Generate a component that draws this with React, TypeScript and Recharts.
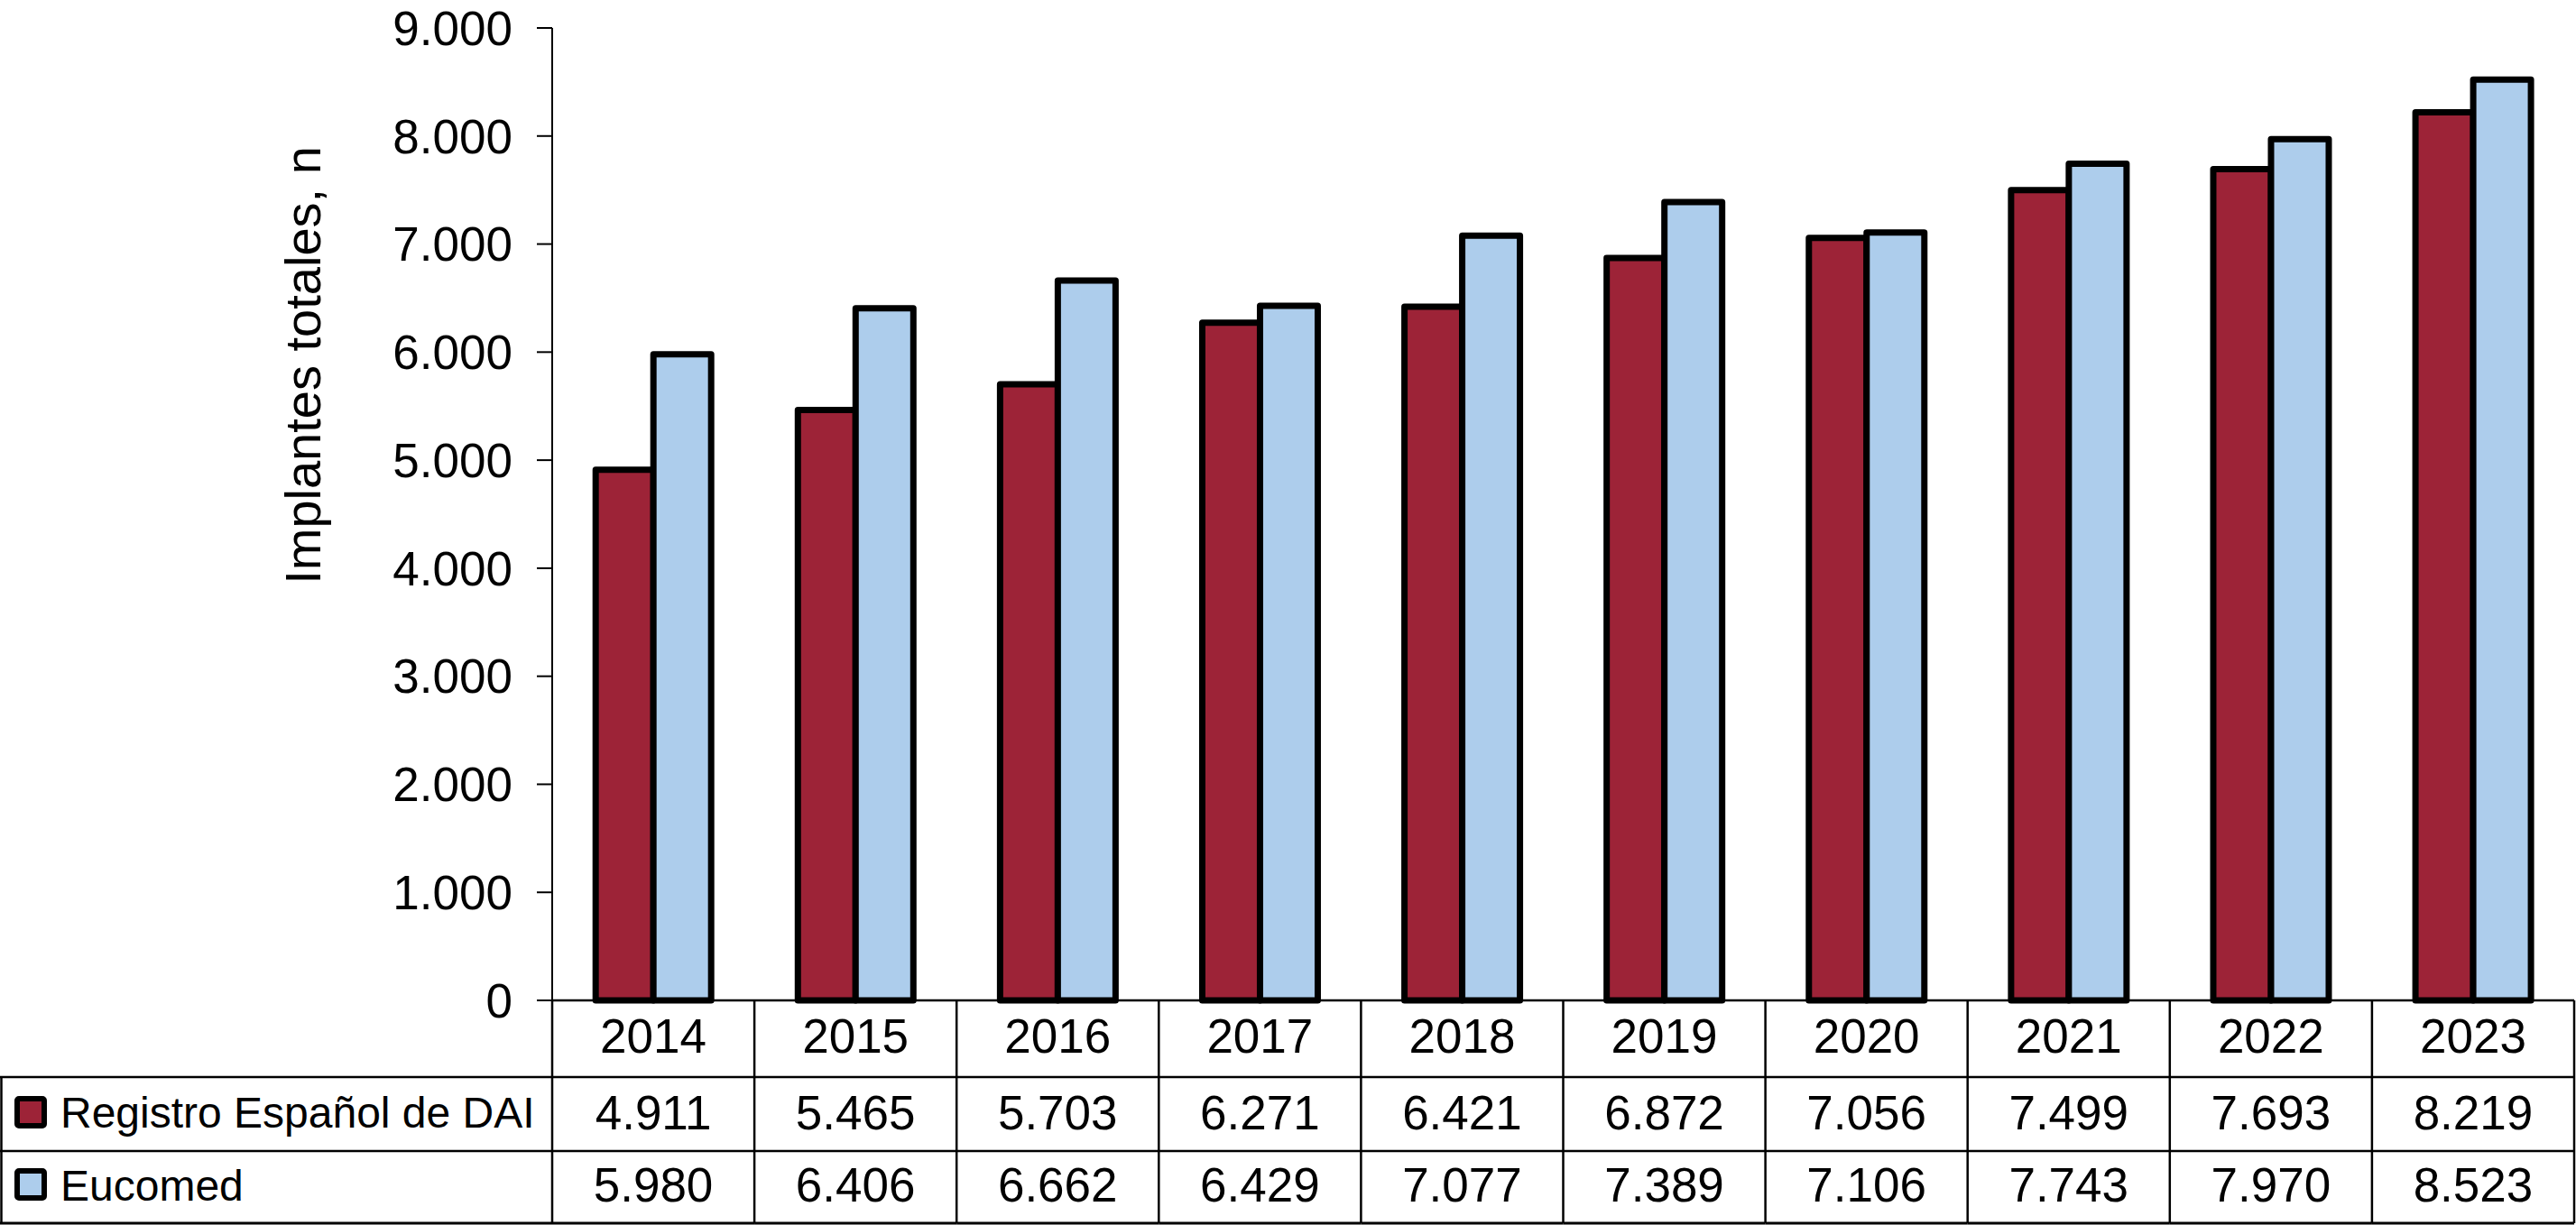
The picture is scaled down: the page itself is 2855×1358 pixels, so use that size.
import React from 'react';
import { BarChart, Bar, XAxis, YAxis } from 'recharts';

const years = ['2014', '2015', '2016', '2017', '2018', '2019', '2020', '2021', '2022', '2023'];
const registro = [4911, 5465, 5703, 6271, 6421, 6872, 7056, 7499, 7693, 8219];
const eucomed = [5980, 6406, 6662, 6429, 7077, 7389, 7106, 7743, 7970, 8523];
const yTicks = [0, 1000, 2000, 3000, 4000, 5000, 6000, 7000, 8000, 9000];
const seriesNames = ['Registro Español de DAI', 'Eucomed'];

const data = years.map((year, i) => ({ year, registro: registro[i], eucomed: eucomed[i] }));

const RED = '#9D2337';
const BLUE = '#ADCDEC';
const FONT = '"Liberation Sans", Arial, Helvetica, sans-serif';

const W = 2855;
const H = 1358;
const Y_AXIS_W = 612;
const MARGIN = { top: 31, right: 2, left: 0, bottom: 0 };
const X_AXIS_H = 249;
const COL_HALF = (W - Y_AXIS_W - MARGIN.right) / years.length / 2;

const ROW1 = 85;
const ROW2 = 167;
const ROW3 = 247;
const LW = 2.5;

const fmt = (n: number) => String(n).replace(/\B(?=(\d{3})+(?!\d))/g, '.');

function Line({ x1, y1, x2, y2, w = LW }: any) {
  return <line x1={x1} y1={y1} x2={x2} y2={y2} stroke="#000" strokeWidth={w} />;
}

function LegendColumn({ x1, y }: any) {
  return (
    <g>
      <Line x1={0} x2={x1} y1={y + ROW1} y2={y + ROW1} />
      <Line x1={0} x2={x1} y1={y + ROW2} y2={y + ROW2} />
      <Line x1={0} x2={x1} y1={y + ROW3} y2={y + ROW3} w={3} />
      <Line x1={1.5} x2={1.5} y1={y + ROW1} y2={y + ROW3} />
      <rect x={19} y={y + 109} width={30} height={30} fill={RED} stroke="#000" strokeWidth={6} rx={2} />
      <text x={67} y={y + 141} fontFamily={FONT} fontSize={48} fill="#000">
        {seriesNames[0]}
      </text>
      <rect x={19} y={y + 189} width={30} height={30} fill={BLUE} stroke="#000" strokeWidth={6} rx={2} />
      <text x={67} y={y + 222} fontFamily={FONT} fontSize={48} fill="#000">
        {seriesNames[1]}
      </text>
    </g>
  );
}

function TableTick(props: any) {
  const { x, y, payload, index } = props;
  const half = payload && typeof payload.offset === 'number' && payload.offset > 0 ? payload.offset : COL_HALF;
  const l = x - half;
  const r = x + half;
  const i = years.indexOf(String(payload.value));
  return (
    <g>
      {index === 0 && <LegendColumn x1={l} y={y} />}
      {index === 0 && <Line x1={l} x2={l} y1={y} y2={y + ROW3} />}
      <Line x1={r} x2={r} y1={y} y2={y + ROW3} />
      <Line x1={l} x2={r} y1={y + ROW1} y2={y + ROW1} />
      <Line x1={l} x2={r} y1={y + ROW2} y2={y + ROW2} />
      <Line x1={l} x2={r} y1={y + ROW3} y2={y + ROW3} w={3} />
      <text x={x} y={y + 58} textAnchor="middle" fontFamily={FONT} fontSize={53} fill="#000">
        {payload.value}
      </text>
      <text x={x} y={y + 143} textAnchor="middle" fontFamily={FONT} fontSize={53} fill="#000">
        {fmt(registro[i])}
      </text>
      <text x={x} y={y + 223} textAnchor="middle" fontFamily={FONT} fontSize={53} fill="#000">
        {fmt(eucomed[i])}
      </text>
    </g>
  );
}

function YLabel(props: any) {
  const vb = props.viewBox || { x: 0, y: MARGIN.top };
  const cx = vb.x + 335;
  const cy = vb.y + 374;
  return (
    <text
      x={cx}
      y={cy}
      transform={`rotate(-90 ${cx} ${cy})`}
      textAnchor="middle"
      dominantBaseline="central"
      fontFamily={FONT}
      fontSize={56}
      fill="#000"
    >
      Implantes totales, n
    </text>
  );
}

export default function App() {
  return (
    <div style={{ position: 'absolute', left: 0, top: 0, width: W, height: H, background: '#fff' }}>
      <BarChart
        width={W}
        height={H}
        data={data}
        margin={MARGIN}
        barCategoryGap="21.5%"
        barGap={0}
      >
        <XAxis
          dataKey="year"
          height={X_AXIS_H}
          interval={0}
          tickLine={false}
          tickSize={0}
          tickMargin={0}
          axisLine={{ stroke: '#000', strokeWidth: 2.5 }}
          tick={<TableTick />}
        />
        <YAxis
          width={Y_AXIS_W}
          domain={[0, 9000]}
          ticks={yTicks}
          interval={0}
          tickFormatter={fmt}
          tickSize={17}
          tickMargin={27}
          axisLine={{ stroke: '#000', strokeWidth: 2 }}
          tickLine={{ stroke: '#000', strokeWidth: 2 }}
          tick={{ fill: '#000', fontSize: 53, fontFamily: FONT }}
          label={{ content: (p: any) => <YLabel {...p} /> }}
        />
        <Bar dataKey="registro" fill={RED} stroke="#000" strokeWidth={7} strokeLinejoin="round" isAnimationActive={false} />
        <Bar dataKey="eucomed" fill={BLUE} stroke="#000" strokeWidth={7} strokeLinejoin="round" isAnimationActive={false} />
      </BarChart>
    </div>
  );
}
